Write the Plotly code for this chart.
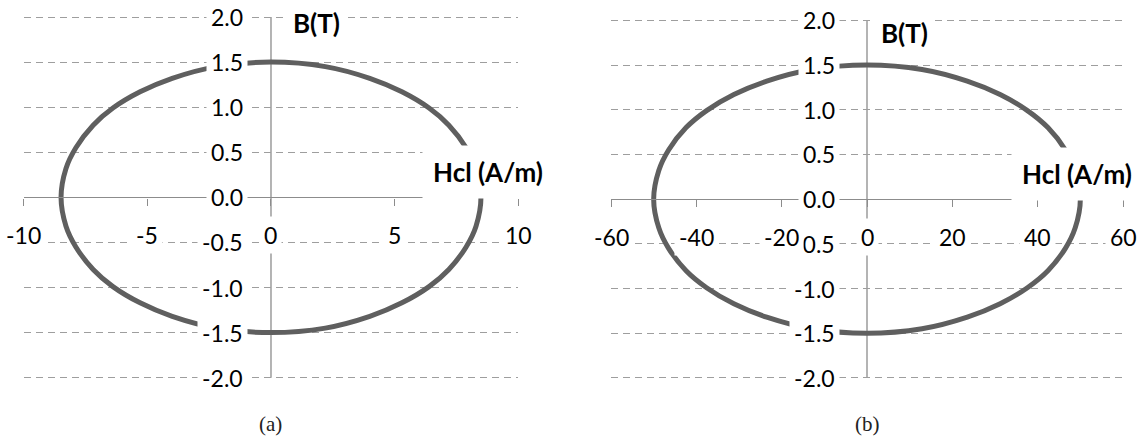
import plotly.graph_objects as go

# ---- data ----
# (a) small-signal loop: Hcl in A/m, B in T
hcl_a = [8.3, 7.9, 7.2, 6.4, 5.3, 4.0, 2.2, 0.0, -2.2, -4.0, -5.3, -6.4, -7.2, -7.9, -8.3, -8.5,
         -8.3, -7.9, -7.2, -6.4, -5.3, -4.0, -2.2, 0.0, 2.2, 4.0, 5.3, 6.4, 7.2, 7.9, 8.3, 8.5, 8.3]
b_a = [0.32, 0.55, 0.80, 0.99, 1.17, 1.32, 1.45, 1.50, 1.45, 1.32, 1.17, 0.99, 0.80, 0.55, 0.32, 0.0,
       -0.32, -0.55, -0.80, -0.99, -1.17, -1.32, -1.45, -1.50, -1.45, -1.32, -1.17, -0.99, -0.80, -0.55, -0.32, 0.0, 0.32]

# (b) larger loop
hcl_b = [48.8, 46.5, 42.4, 37.6, 31.2, 23.5, 12.9, 0.0, -12.9, -23.5, -31.2, -37.6, -42.4, -46.5, -48.8, -50.0,
         -48.8, -46.5, -42.4, -37.6, -31.2, -23.5, -12.9, 0.0, 12.9, 23.5, 31.2, 37.6, 42.4, 46.5, 48.8, 50.0, 48.8]
b_b = list(b_a)

x_ticks_a = [-10, -5, 0, 5, 10]
x_ticks_b = [-60, -40, -20, 0, 20, 40, 60]
y_ticks = [-2.0, -1.5, -1.0, -0.5, 0.0, 0.5, 1.0, 1.5, 2.0]

LINE = '#5f5f5f'
GRID = '#9e9e9e'
AXIS = '#8c8c8c'
FONT = 'Lato'
YLIM = 2.02  # a hair past +/-2 so the edge gridlines get drawn

fig = go.Figure()
fig.add_trace(go.Scatter(x=hcl_a, y=b_a, mode='lines', line=dict(color=LINE, width=5, shape='spline', smoothing=1),
                         xaxis='x', yaxis='y', showlegend=False, hoverinfo='skip'))
fig.add_trace(go.Scatter(x=hcl_b, y=b_b, mode='lines', line=dict(color=LINE, width=5, shape='spline', smoothing=1),
                         xaxis='x2', yaxis='y2', showlegend=False, hoverinfo='skip'))

dom_x = {'a': [0.02094, 0.45201], 'b': [0.53316, 0.97993]}
dom_y = {'a': [0.12961, 0.96511], 'b': [0.12895, 0.95752]}


def xax(dom, domy, ticks):
    return dict(domain=dom, range=[ticks[0], ticks[-1]], anchor='free', position=sum(domy) / 2,
                showline=True, linecolor=AXIS, linewidth=1.3, showgrid=False, zeroline=False,
                tickvals=ticks, ticks='outside', ticklen=7, tickcolor=AXIS, tickwidth=1.3,
                showticklabels=False, fixedrange=True)


def yax(dom, domx):
    return dict(domain=dom, range=[-YLIM, YLIM], anchor='free', position=sum(domx) / 2,
                showline=False, showgrid=True, gridcolor=GRID,
                gridwidth=1.3, griddash='7px,5px', zeroline=False, tickvals=y_ticks, ticks='',
                showticklabels=False, fixedrange=True)


fig.update_layout(
    width=1146, height=436, margin=dict(l=0, r=0, t=0, b=0),
    paper_bgcolor='white', plot_bgcolor='white',
    xaxis=xax(dom_x['a'], dom_y['a'], x_ticks_a),
    yaxis=yax(dom_y['a'], dom_x['a']),
    xaxis2=xax(dom_x['b'], dom_y['b'], x_ticks_b),
    yaxis2=yax(dom_y['b'], dom_x['b']),
)

# vertical B axis: a solid line at Hcl = 0 running from -2 to 2
for xr, yr in [('x', 'y'), ('x2', 'y2')]:
    fig.add_shape(type='line', xref=xr, yref=yr, x0=0, x1=0, y0=y_ticks[0], y1=y_ticks[-1],
                  line=dict(color=AXIS, width=1.3), layer='below')

ann = []
tick_font = dict(family=FONT, size=23, color='black')
# y tick labels sit on the vertical axis and mask whatever is behind them
for xr, yr, shift in [('x', 'y', -23), ('x2', 'y2', -27)]:
    for v in y_ticks:
        ann.append(dict(x=0, y=v, xref=xr, yref=yr, text=f'{v:.1f}', showarrow=False,
                        xanchor='right', yanchor='middle', xshift=shift, font=tick_font,
                        bgcolor='white', borderpad=4))
for xr, yr, ticks in [('x', 'y', x_ticks_a), ('x2', 'y2', x_ticks_b)]:
    for v in ticks:
        ann.append(dict(x=v, y=0, xref=xr, yref=yr, text=str(v), showarrow=False,
                        xanchor='center', yanchor='middle', yshift=-38, font=tick_font,
                        bgcolor='white', borderpad=4))

title_font = dict(family=FONT, size=26, color='black')
cap_font = dict(family='Liberation Serif', size=21, color='#222')
ann += [
    dict(x=0.6, y=1.93, xref='x', yref='y', text='<b>B(T)</b>', showarrow=False, xanchor='left',
         yanchor='middle', font=title_font, bgcolor='white', borderpad=6),
    dict(x=1.7, y=1.86, xref='x2', yref='y2', text='<b>B(T)</b>', showarrow=False, xanchor='left',
         yanchor='middle', font=title_font, bgcolor='white', borderpad=6),
    dict(x=6.1, y=0.28, xref='x', yref='y', text='<b>Hcl (A/m)</b>', showarrow=False, xanchor='left',
         yanchor='middle', font=title_font, bgcolor='white', borderpad=10),
    dict(x=33.8, y=0.28, xref='x2', yref='y2', text='<b>Hcl (A/m)</b>', showarrow=False, xanchor='left',
         yanchor='middle', font=title_font, bgcolor='white', borderpad=10),
    dict(x=0, y=0.0275, xref='x', yref='paper', text='(a)', showarrow=False, xanchor='center',
         yanchor='middle', font=cap_font),
    dict(x=0, y=0.0275, xref='x2', yref='paper', text='(b)', showarrow=False, xanchor='center',
         yanchor='middle', font=cap_font),
]
fig.update_layout(annotations=ann)

fig.write_html('out.html', config={'displayModeBar': False},
               post_script="document.body.style.margin='0';")
